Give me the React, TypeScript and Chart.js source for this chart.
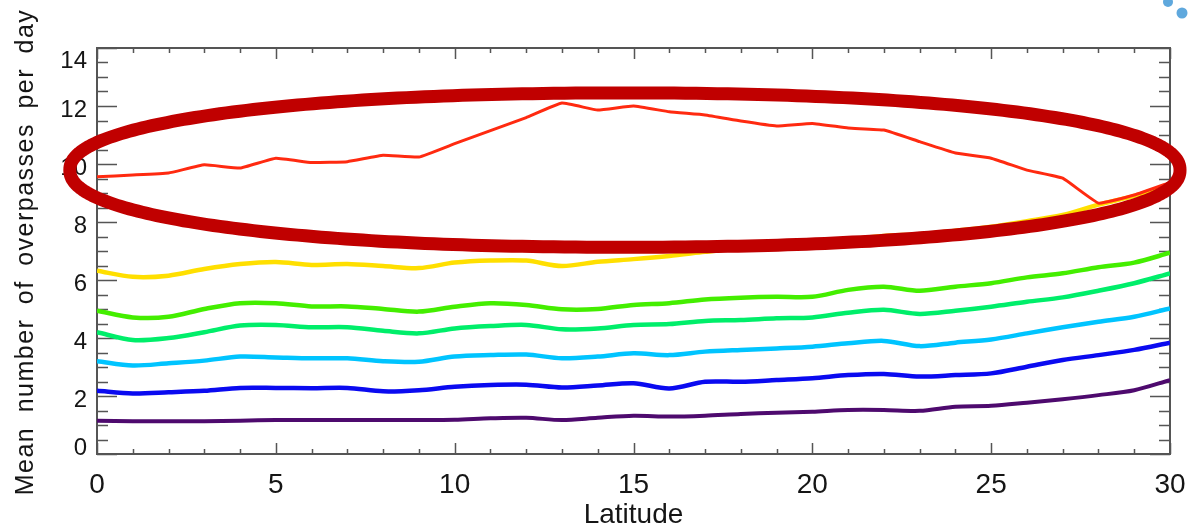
import React, { useEffect, useRef } from "react";
import { Chart, registerables } from "chart.js";

Chart.register(...registerables);

// Latitude categories (0..30)
const latitudes = [0, 1, 2, 3, 4, 5, 6, 7, 8, 9, 10, 11, 12, 13, 14, 15, 16, 17, 18, 19, 20, 21, 22, 23, 24, 25, 26, 27, 28, 29, 30];

// Series values (mean number of overpasses per day)
const redSeries = [9.56, 9.62, 9.69, 9.97, 9.86, 10.2, 10.05, 10.08, 10.3, 10.24, 10.7, 11.15, 11.6, 12.1, 11.86, 12.0, 11.8, 11.69, 11.48, 11.31, 11.4, 11.24, 11.17, 10.77, 10.38, 10.2, 9.79, 9.51, 8.65, 8.93, 9.36];
const yellowSeries = [6.32, 6.11, 6.15, 6.38, 6.55, 6.62, 6.52, 6.55, 6.48, 6.41, 6.6, 6.67, 6.67, 6.48, 6.63, 6.72, 6.83, 6.97, 7.1, 7.2, 7.3, 7.4, 7.52, 7.58, 7.7, 7.84, 8.03, 8.24, 8.6, 8.9, 9.3];
const greenSeries = [4.94, 4.71, 4.73, 5.0, 5.2, 5.2, 5.09, 5.09, 5.0, 4.91, 5.08, 5.2, 5.14, 4.99, 5.0, 5.14, 5.2, 5.33, 5.39, 5.42, 5.42, 5.66, 5.77, 5.63, 5.77, 5.89, 6.09, 6.23, 6.44, 6.6, 6.94];
const springSeries = [4.2, 3.93, 4.0, 4.2, 4.43, 4.45, 4.37, 4.37, 4.25, 4.16, 4.33, 4.41, 4.45, 4.3, 4.33, 4.45, 4.48, 4.59, 4.62, 4.68, 4.71, 4.87, 4.97, 4.83, 4.94, 5.08, 5.25, 5.4, 5.63, 5.89, 6.23];
const cyanSeries = [3.2, 3.05, 3.13, 3.22, 3.36, 3.33, 3.3, 3.3, 3.2, 3.18, 3.36, 3.41, 3.43, 3.3, 3.36, 3.47, 3.41, 3.53, 3.59, 3.64, 3.7, 3.82, 3.9, 3.72, 3.84, 3.95, 4.16, 4.37, 4.56, 4.73, 5.02];
const blueSeries = [2.18, 2.09, 2.13, 2.18, 2.28, 2.28, 2.27, 2.28, 2.16, 2.2, 2.32, 2.38, 2.39, 2.29, 2.36, 2.44, 2.26, 2.49, 2.49, 2.55, 2.61, 2.72, 2.76, 2.67, 2.72, 2.78, 3.01, 3.24, 3.41, 3.59, 3.84];
const purpleSeries = [1.15, 1.13, 1.13, 1.13, 1.15, 1.17, 1.17, 1.17, 1.17, 1.17, 1.18, 1.23, 1.25, 1.17, 1.25, 1.32, 1.29, 1.32, 1.38, 1.42, 1.46, 1.52, 1.52, 1.49, 1.63, 1.66, 1.77, 1.89, 2.03, 2.2, 2.55];

// Tick labels
const xTickLabels = [0, 5, 10, 15, 20, 25, 30];
const yTickLabels = [0, 2, 4, 6, 8, 10, 12, 14];

// Highlight loop (data units: centre latitude/value, half-width in degrees, half-height in value units)
const ellipseCenter = [14.76, 9.79];
const ellipseRadii = [15.52, 2.66];
const ellipseRoundness = 2.2;

const FONT = '"Liberation Sans", Arial, Helvetica, sans-serif';

const toPoints = (vals: number[]) => latitudes.map((x, i) => ({ x, y: vals[i] }));

const decorPlugin = {
  id: "decor",
  beforeDatasetsDraw(chart: any) {
    const { ctx, chartArea, scales } = chart;
    const { left, right, top, bottom } = chartArea;
    const xs = scales.x;
    const ys = scales.y;
    ctx.save();
    ctx.strokeStyle = "#555";
    ctx.lineWidth = 2;
    ctx.strokeRect(left, top, right - left, bottom - top);
    ctx.lineWidth = 1.5;
    ctx.beginPath();
    for (let v = 0; v <= 30; v += 1) {
      const px = Math.round(xs.getPixelForValue(v)) + 0.5;
      const len = v % 5 === 0 ? 11 : 5;
      ctx.moveTo(px, bottom);
      ctx.lineTo(px, bottom - len);
      ctx.moveTo(px, top);
      ctx.lineTo(px, top + len);
    }
    for (let v = 0; v <= 14; v += 0.5) {
      const py = Math.round(ys.getPixelForValue(v)) + 0.5;
      const len = v % 2 === 0 ? 20 : 11;
      ctx.moveTo(left, py);
      ctx.lineTo(left + len, py);
      ctx.moveTo(right, py);
      ctx.lineTo(right - len, py);
    }
    ctx.stroke();

    // tick labels
    ctx.fillStyle = "#151515";
    ctx.font = `24px ${FONT}`;
    ctx.textAlign = "right";
    ctx.textBaseline = "alphabetic";
    yTickLabels.forEach((v) => {
      let cy = ys.getPixelForValue(v) + 2;
      cy = Math.max(top + 11, Math.min(bottom - 8, cy));
      ctx.fillText(String(v), left - 10, cy + 8.6);
    });
    ctx.font = `28px ${FONT}`;
    ctx.textAlign = "center";
    xTickLabels.forEach((v) => {
      const px = xs.getPixelForValue(v);
      ctx.fillText(String(v), px, bottom + 39);
    });

    // axis titles
    ctx.font = `28px ${FONT}`;
    ctx.fillText("Latitude", (left + right) / 2, bottom + 69);

    ctx.save();
    ctx.translate(33, 252);
    ctx.rotate(-Math.PI / 2);
    ctx.font = `25px ${FONT}`;
    (ctx as any).letterSpacing = "1.5px";
    (ctx as any).wordSpacing = "6px";
    ctx.textAlign = "center";
    ctx.fillText("Mean number of overpasses per day", 0, 0);
    ctx.restore();
    ctx.restore();
  },
  afterDraw(chart: any) {
    const { ctx, scales } = chart;
    const xs = scales.x;
    const ys = scales.y;
    const cx = xs.getPixelForValue(ellipseCenter[0]);
    const cy = ys.getPixelForValue(ellipseCenter[1]);
    const rx = xs.getPixelForValue(ellipseCenter[0] + ellipseRadii[0]) - cx;
    const ry = cy - ys.getPixelForValue(ellipseCenter[1] + ellipseRadii[1]);
    const e = 2 / ellipseRoundness;
    ctx.save();
    ctx.strokeStyle = "#c00000";
    ctx.lineWidth = 13;
    ctx.lineJoin = "round";
    ctx.beginPath();
    const steps = 360;
    for (let i = 0; i <= steps; i++) {
      const t = (i / steps) * Math.PI * 2;
      const c = Math.cos(t);
      const s = Math.sin(t);
      const px = cx + rx * Math.sign(c) * Math.pow(Math.abs(c), e);
      const py = cy + ry * Math.sign(s) * Math.pow(Math.abs(s), e);
      if (i === 0) ctx.moveTo(px, py);
      else ctx.lineTo(px, py);
    }
    ctx.closePath();
    ctx.stroke();

    // logo fragment dots (top-right corner)
    ctx.fillStyle = "#5fa8dd";
    ctx.beginPath();
    ctx.arc(1168, 2, 5, 0, Math.PI * 2);
    ctx.fill();
    ctx.beginPath();
    ctx.arc(1182, 13, 5.5, 0, Math.PI * 2);
    ctx.fill();
    ctx.restore();
  },
};

export default function App() {
  const canvasRef = useRef<HTMLCanvasElement | null>(null);

  useEffect(() => {
    document.body.style.margin = "0";
    const canvas = canvasRef.current;
    if (!canvas) return;
    const mk = (label: string, vals: number[], color: string, width: number, tension: number) => ({
      label,
      data: toPoints(vals),
      borderColor: color,
      backgroundColor: color,
      borderWidth: width,
      pointRadius: 0,
      tension,
      fill: false,
    });
    const chart = new Chart(canvas, {
      type: "line",
      data: {
        datasets: [
          mk("red", redSeries, "#ff2a10", 3, 0.1),
          mk("yellow", yellowSeries, "#ffdf00", 4.5, 0.3),
          mk("green", greenSeries, "#44ee00", 4.5, 0.3),
          mk("springgreen", springSeries, "#00ee6a", 4.5, 0.3),
          mk("cyan", cyanSeries, "#00c4ff", 4.5, 0.3),
          mk("blue", blueSeries, "#0a0af0", 4.5, 0.3),
          mk("purple", purpleSeries, "#4e0a6e", 4, 0.3),
        ],
      },
      options: {
        animation: false,
        responsive: false,
        maintainAspectRatio: false,
        devicePixelRatio: 1,
        layout: { padding: { top: 48, right: 18, left: 0, bottom: 0 } },
        plugins: { legend: { display: false }, tooltip: { enabled: false } },
        scales: {
          x: {
            type: "linear",
            min: 0,
            max: 30,
            grid: { display: false },
            border: { display: false },
            ticks: { display: false },
            afterFit: (s: any) => {
              s.height = 74;
            },
          },
          y: {
            type: "linear",
            min: 0,
            max: 14,
            grid: { display: false },
            border: { display: false },
            ticks: { display: false },
            afterFit: (s: any) => {
              s.width = 97;
            },
          },
        },
      },
      plugins: [decorPlugin],
    } as any);
    return () => chart.destroy();
  }, []);

  return (
    <canvas
      ref={canvasRef}
      width={1188}
      height={528}
      style={{ display: "block", width: 1188, height: 528 }}
    />
  );
}
